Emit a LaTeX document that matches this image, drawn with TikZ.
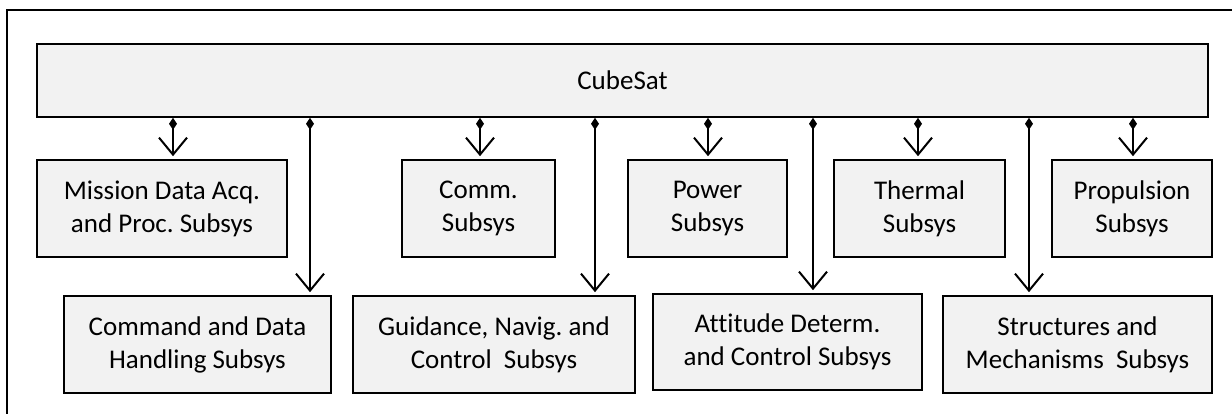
\documentclass[tikz,border=0pt]{standalone}
\usepackage{fontspec}
\setmainfont{Carlito}[Ligatures=NoCommon]
\usetikzlibrary{arrows.meta}
\frenchspacing
\begin{document}
\begin{tikzpicture}[x=1pt,y=-1pt,
  box/.style={draw=black,line width=1.6pt,fill=boxgray,rectangle,inner sep=0pt,align=center,
    font=\fontsize{27}{33}\selectfont},
  conn/.style={line width=2pt,{Diamond[length=12pt,width=8pt]}-{Straight Barb[length=17pt,width=28pt,line width=2pt]}, shorten >=3pt}
]
\definecolor{boxgray}{HTML}{F2F2F2}
\useasboundingbox (0,0) rectangle (1232,413);
\draw[line width=1.6pt] (7,414) -- (7,10) -- (1233,10);
\node[box,minimum width=1171pt,minimum height=73pt] (cube) at (622.5,80.5) {CubeSat};
\node[box,minimum width=250pt,minimum height=97pt] (mission) at (162,208.5) {Mission Data Acq.\\and Proc. Subsys};
\node[box,minimum width=153pt,minimum height=97pt] (comm) at (478.5,208.5) {Comm.\\Subsys};
\node[box,minimum width=159pt,minimum height=97pt] (power) at (707.5,208.5) {Power\\Subsys};
\node[box,minimum width=171pt,minimum height=97pt] (thermal) at (919.5,208.5) {Thermal\\Subsys};
\node[box,minimum width=160pt,minimum height=97pt] (prop) at (1132,208.5) {Propulsion\\Subsys};
\node[box,minimum width=267pt,minimum height=97pt] (cdh) at (197.5,344.5) {Command and Data\\Handling Subsys};
\node[box,minimum width=282pt,minimum height=97pt] (gnc) at (494,344.5) {Guidance, Navig. and\\Control\ \ Subsys};
\node[box,minimum width=269pt,minimum height=96pt] (adc) at (787.5,342) {Attitude Determ.\\and Control Subsys};
\node[box,minimum width=269pt,minimum height=97pt] (sms) at (1077.5,344.5) {Structures and\\Mechanisms\ \ Subsys};
\foreach \n/\xx in {mission/173,cdh/310,comm/480,gnc/595,power/708,adc/813,thermal/918,sms/1029,prop/1133}
  \draw[conn] (cube.south -| \xx,0) -- (\n.north -| \xx,0);
\end{tikzpicture}
\end{document}
